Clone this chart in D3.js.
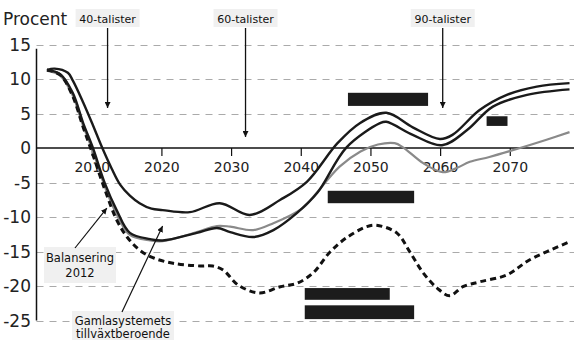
<!DOCTYPE html>
<html>
<head>
<meta charset="utf-8">
<script src="https://cdn.jsdelivr.net/npm/d3@7"></script>
<style>
  body { margin: 0; background: #fff; }
  svg { display: block; font-family: "DejaVu Sans", sans-serif; }
</style>
</head>
<body>
<svg id="chart"></svg>
<script>
// series (year, percent)
const upperYears = [2003.5, 2004.6, 2006.5, 2007.2, 2008.7, 2010.1, 2011.4, 2012.8, 2014, 2015.4, 2016.8, 2018.5, 2020.1, 2024, 2028.3, 2032.6, 2037, 2040.8, 2045.2, 2048.4, 2052.2, 2056, 2059.9, 2061.7, 2065.6, 2069.5, 2073.8, 2078.5];
const upperValues = [11.3, 11.5, 10.9, 9.8, 6.6, 3.3, 0.1, -3.0, -5.3, -6.9, -8.0, -8.8, -9.0, -9.3, -8.0, -9.7, -7.5, -4.9, 0.7, 3.6, 5.1, 3.0, 1.3, 1.9, 5.5, 7.7, 8.9, 9.4];

const lowerYears = [2003.5, 2005.4, 2007.2, 2008.7, 2010.1, 2011.8, 2013.5, 2015.4, 2018.3, 2020.1, 2025, 2027.9, 2029.8, 2033.1, 2036, 2039.4, 2042.3, 2046.5, 2051.3, 2052.2, 2056, 2060.2, 2063.8, 2067.5, 2072.4, 2078.5];
const lowerValues = [11.3, 10.7, 8.0, 3.6, 0.0, -5.1, -9.0, -12.3, -13.2, -13.4, -12.3, -11.6, -12.2, -12.9, -11.9, -9.4, -6.5, 0.1, 3.6, 3.8, 1.9, 0.4, 2.6, 6.0, 7.7, 8.5];

const grayYears = [2003.5, 2005.4, 2007.2, 2008.7, 2010.1, 2011.8, 2013.5, 2015.4, 2018.3, 2020.1, 2025, 2027.9, 2029.8, 2033.1, 2036, 2040.2, 2041.7, 2045.5, 2048.5, 2051, 2053.4, 2054.6, 2057.5, 2060.3, 2062.3, 2064.2, 2067, 2071.4, 2075.2, 2078.5];
const grayValues = [11.2, 10.5, 7.6, 3.2, -0.5, -5.6, -9.6, -12.6, -13.4, -13.5, -12.2, -11.3, -11.4, -11.9, -10.9, -8.7, -7.1, -2.7, -0.5, 0.5, 0.7, 0.1, -2.2, -3.5, -2.9, -2.0, -1.3, 0.0, 1.2, 2.3];

const dashedYears = [2003.5, 2005.4, 2007.2, 2008.7, 2010.1, 2011.8, 2013.5, 2015, 2016.8, 2018.7, 2021.6, 2025.5, 2027.3, 2028.8, 2031, 2034, 2037, 2039.4, 2041.7, 2044.1, 2046.5, 2049.4, 2050.8, 2053.7, 2055.6, 2057.5, 2059.5, 2061.3, 2063.2, 2065.6, 2069.5, 2072.8, 2078.5];
const dashedValues = [11.3, 10.6, 7.5, 3.0, -1.0, -6.0, -10.4, -12.9, -14.8, -15.9, -16.7, -17.1, -17.1, -17.7, -19.9, -21.0, -20.1, -19.6, -18.1, -15.1, -13.0, -11.4, -11.2, -12.3, -15.1, -18.1, -20.3, -21.4, -20.1, -19.4, -18.4, -16.2, -13.6];

const xTicks = [2010, 2020, 2030, 2040, 2050, 2060, 2070];
const yTicks = [15, 10, 5, 0, -5, -10, -15, -20, -25];

// dark blocks: [fromYear, toYear, topValue, bottomValue]
const blocks = [
  [2046.7, 2058.2, 8.0, 6.1],
  [2066.6, 2069.6, 4.6, 3.2],
  [2043.8, 2056.2, -6.2, -8.0],
  [2040.5, 2052.7, -20.3, -22.0],
  [2040.5, 2056.2, -22.8, -24.8]
];

// cohort arrows: label, year, arrow tip value
const cohorts = [
  ["40-talister", 2012.2, 5.8],
  ["60-talister", 2032.0, 1.6],
  ["90-talister", 2060.3, 5.8]
];

const width = 574, height = 340;

const svg = d3.select("#chart")
  .attr("width", width)
  .attr("height", height);

const x = d3.scaleLinear().domain([2002, 2079]).range([36.5, 573]);
const y = d3.scaleLinear().domain([-25, 15]).range([320.5, 44.5]);

svg.append("defs").append("marker")
  .attr("id", "head")
  .attr("viewBox", "0 0 10 10")
  .attr("refX", 10).attr("refY", 5)
  .attr("markerWidth", 6).attr("markerHeight", 6)
  .attr("markerUnits", "userSpaceOnUse")
  .attr("orient", "auto")
  .append("path")
  .attr("d", "M0,0L10,5L0,10z")
  .attr("fill", "#111");

// dashed grid
svg.append("g")
  .selectAll("line")
  .data(yTicks.filter(d => d !== 0))
  .join("line")
  .attr("x1", x(2002)).attr("x2", width)
  .attr("y1", d => Math.round(y(d)) + 0.5)
  .attr("y2", d => Math.round(y(d)) + 0.5)
  .attr("stroke", "#aaa")
  .attr("stroke-width", 1)
  .attr("stroke-dasharray", "7,6");

// y axis labels
svg.append("g")
  .selectAll("text")
  .data(yTicks)
  .join("text")
  .attr("x", 31)
  .attr("y", d => y(d) + 6)
  .attr("text-anchor", "end")
  .attr("font-size", 17)
  .attr("fill", "#222")
  .text(d => d);

svg.append("text")
  .attr("x", 3).attr("y", 25)
  .attr("font-size", 17)
  .attr("fill", "#222")
  .text("Procent");

// y axis line
svg.append("line")
  .attr("x1", x(2002)).attr("x2", x(2002))
  .attr("y1", y(14.4)).attr("y2", y(-25))
  .attr("stroke", "#111").attr("stroke-width", 1.5);

// zero line with ticks
svg.append("line")
  .attr("x1", x(2002)).attr("x2", width)
  .attr("y1", y(0)).attr("y2", y(0))
  .attr("stroke", "#111").attr("stroke-width", 1.5);

const xAxis = svg.append("g");
xAxis.selectAll("line")
  .data(xTicks)
  .join("line")
  .attr("x1", d => x(d)).attr("x2", d => x(d))
  .attr("y1", y(0)).attr("y2", y(0) + 8)
  .attr("stroke", "#111").attr("stroke-width", 1.2);
xAxis.selectAll("text")
  .data(xTicks)
  .join("text")
  .attr("x", d => x(d))
  .attr("y", y(0) + 24)
  .attr("text-anchor", "middle")
  .attr("font-size", 14)
  .attr("fill", "#222")
  .text(d => d);

function series(years, values) {
  return years.map((yr, i) => [yr, values[i]]);
}

const line = d3.line()
  .x(d => x(d[0]))
  .y(d => y(d[1]))
  .curve(d3.curveCatmullRom.alpha(0.5));

svg.append("path")
  .attr("d", line(series(grayYears, grayValues)))
  .attr("fill", "none").attr("stroke", "#8a8a8a").attr("stroke-width", 2.2);

svg.append("path")
  .attr("d", line(series(dashedYears, dashedValues)))
  .attr("fill", "none").attr("stroke", "#111").attr("stroke-width", 3)
  .attr("stroke-dasharray", "6,4");

svg.append("path")
  .attr("d", line(series(lowerYears, lowerValues)))
  .attr("fill", "none").attr("stroke", "#1a1a1a").attr("stroke-width", 2.4);

svg.append("path")
  .attr("d", line(series(upperYears, upperValues)))
  .attr("fill", "none").attr("stroke", "#1a1a1a").attr("stroke-width", 2.4);

// dark blocks
svg.append("g")
  .selectAll("rect")
  .data(blocks)
  .join("rect")
  .attr("x", d => x(d[0]))
  .attr("y", d => y(d[2]))
  .attr("width", d => x(d[1]) - x(d[0]))
  .attr("height", d => y(d[3]) - y(d[2]))
  .attr("fill", "#1c1c1c");

// cohort labels with arrows
const coh = svg.append("g").selectAll("g").data(cohorts).join("g");
coh.append("rect")
  .attr("x", d => x(d[1]) - 32).attr("y", 9)
  .attr("width", 64).attr("height", 18)
  .attr("fill", "#f0f0f0");
coh.append("text")
  .attr("x", d => x(d[1]))
  .attr("y", 23)
  .attr("text-anchor", "middle")
  .attr("font-size", 11)
  .attr("fill", "#111")
  .text(d => d[0]);
coh.append("line")
  .attr("x1", d => x(d[1])).attr("x2", d => x(d[1]))
  .attr("y1", 28).attr("y2", d => y(d[2]))
  .attr("stroke", "#111").attr("stroke-width", 1.3)
  .attr("marker-end", "url(#head)");

// note boxes
function note(lines, cx, top, fontSize, lineH, boxW, from, to) {
  const g = svg.append("g");
  g.append("rect")
    .attr("x", cx - boxW / 2).attr("y", top)
    .attr("width", boxW).attr("height", lines.length * lineH + 6)
    .attr("fill", "#f0f0f0");
  g.selectAll("text")
    .data(lines)
    .join("text")
    .attr("x", cx)
    .attr("y", (d, i) => top + lineH * (i + 1))
    .attr("text-anchor", "middle")
    .attr("font-size", fontSize)
    .attr("fill", "#111")
    .text(d => d);
  g.append("line")
    .attr("x1", from[0]).attr("y1", from[1])
    .attr("x2", x(to[0])).attr("y2", y(to[1]))
    .attr("stroke", "#111").attr("stroke-width", 1.2)
    .attr("marker-end", "url(#head)");
}

note(["Balansering", "2012"], 80, 247, 11.5, 15, 72, [75, 248], [2012.1, -8.7]);
note(["Gamlasystemets", "tillväxtberoende"], 123, 311, 11.5, 13.5, 102, [122, 312], [2020.1, -11.3]);
</script>
</body>
</html>
